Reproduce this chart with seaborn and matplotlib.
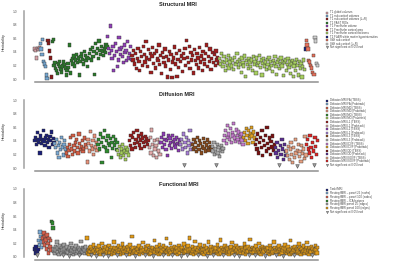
import matplotlib
matplotlib.use("Agg")
import matplotlib.pyplot as plt
import pandas as pd
import seaborn as sns
from matplotlib.lines import Line2D

sns.set_theme(style="white")
plt.rcParams['font.family'] = ['Liberation Sans', 'DejaVu Sans']

NS = "Not significant at 0.05 level"

# ---------------- Structural MRI (heritability x100) ----------------
s_groups = ["T1 global volumes", "T1 sub-cortical volumes", "T1 sub-cortical volumes (L+R)",
            "T1 FAST ROIs", "T1 FreeSurfer volume", "T1 FreeSurfer cortical area",
            "T1 FreeSurfer cortical thickness", "T2 FLAIR white matter hyperintensities",
            "SWI sub-cortical", "SWI sub-cortical (L+R)"]
s_colors = ["#d8a2a8", "#74a7d2", "#8b1a1a", "#2a7a2a", "#9140b8", "#a11d1d",
            "#a8d060", "#1a237e", "#e8705a", "#cfcfcf"]
s_global = [44, 42, 31, 45, 43, 46]
s_subc = [52, 44, 36, 58, 26, 22, 18, 6, 1]
s_sublr = [57, 52, 41, 31, 3]
s_fast = [55, 58, 20, 24, 15, 12, 8, 22, 26, 18, 14, 10, 19, 25, 21, 16, 6, 12, 23, 17,
          50, 9, 27, 30, 22, 34, 19, 28, 36, 24, 31, 6, 26, 33, 38, 29, 22, 40, 35, 27, 32, 18, 30,
          37, 43, 28, 46, 33, 40, 7, 52, 38, 45, 30, 56, 42, 36, 48, 41, 35, 44, 39, 50, 47]
s_fsvol = [63, 45, 38, 78, 42, 30, 48, 12, 35, 52, 40, 18, 28, 61, 44, 36, 46, 33, 24, 50,
           39, 42, 27, 55, 31, 37, 48, 29]
s_area = [35, 28, 42, 22, 38, 15, 30, 45, 26, 12, 40, 33, 20, 48, 36, 25, 55, 31, 18, 43,
          29, 38, 10, 34, 46, 23, 37, 16, 41, 30, 27, 50, 21, 35, 8, 39, 32, 24, 44, 19,
          33, 3, 28, 40, 14, 36, 2, 25, 31, 47, 22, 38, 4, 29, 17, 42, 26, 34, 11, 37,
          30, 45, 20, 57, 32, 24, 48, 15, 39, 28, 35, 9, 43, 27, 21, 38, 31, 16, 46, 25,
          34, 12, 40, 29, 22, 37, 50, 18, 33, 26, 44, 14, 30, 39, 24, 36, 20, 41, 28, 32, 23]
s_thick = [30, 22, 38, 26, 18, 33, 24, 12, 28, 20, 35, 16, 25, 30, 19, 27, 14, 32, 23, 21,
           38, 26, 17, 29, 22, 10, 31, 24, 19, 34, 4, 27, 21, 15, 30, 25, 18, 28, 13, 33,
           22, 26, 9, 31, 20, 24, 35, 17, 28, 6, 23, 30, 19, 25, 14, 29, 21, 32, 16, 26,
           20, 11, 27, 23, 33, 18, 7, 25, 29, 15, 22, 31, 19, 26, 5, 24, 28, 13, 21, 30,
           17, 25, 8, 22, 27, 4, 19, 24, 12, 29, 20, 6, 26, 16, 23, 3, 18, 28, 14]
s_wmh = [44]
s_swi = [57, 50, 44, 27, 25, 20, 16, 10, 35, 7]
s_swilr = [61, 56, 23, 20]
s_values = [s_global, s_subc, s_sublr, s_fast, s_fsvol, s_area, s_thick, s_wmh, s_swi, s_swilr]

# ---------------- Diffusion MRI ----------------
d_groups = ["Diffusion MRI FA (TBSS)", "Diffusion MRI FA (Probtrack)",
            "Diffusion MRI MD (TBSS)", "Diffusion MRI MD (Probtrack)",
            "Diffusion MRI MO (TBSS)", "Diffusion MRI MO (Probtrack)",
            "Diffusion MRI L1 (TBSS)", "Diffusion MRI L1 (Probtrack)",
            "Diffusion MRI L2 (TBSS)", "Diffusion MRI L2 (Probtrack)",
            "Diffusion MRI L3 (TBSS)", "Diffusion MRI L3 (Probtrack)",
            "Diffusion MRI ICVF (TBSS)", "Diffusion MRI ICVF (Probtrack)",
            "Diffusion MRI OD (TBSS)", "Diffusion MRI OD (Probtrack)",
            "Diffusion MRI ISOVF (TBSS)", "Diffusion MRI ISOVF (Probtrack)"]
d_colors = ["#1a1f7a", "#7aa9d4", "#d65f45", "#e8927a", "#2e8b2e", "#a5d05a",
            "#9b1c1c", "#e0a8a8", "#8e3bb5", "#a77fd6", "#8b4a1a", "#a8a8a8",
            "#c77ccf", "#e0a020", "#7a1010", "#5a2d91", "#e8a080", "#e02424"]
d_fa_t = [40, 45, 35, 52, 38, 42, 22, 47, 36, 41, 55, 39, 33, 44, 48, 37, 42, 30, 46, 40, 53, 35, 43, 38]
d_fa_p = [36, 30, 42, 22, 33, 15, 38, 27, 45, 31, 19, 35, 40, 28]
d_md_t = [22, 30, 17, 26, 35, 45, 28, 20, 48, 33, 25, 38, 42, 30, 22, 50, 36, 27, 32, 40, 24, 29, 44, 34]
d_md_p = [30, 9, 42, 36, 25, 54, 33, 28, 40, 20, 47, 31, 38, 26]
d_mo_t = [35, 42, 28, 50, 38, 8, 45, 32, 55, 30, 40, 25, 47, 36, 33, 43, 15, 38, 29, 46, 34, 41, 27, 37]
d_mo_p = [26, 20, 32, 15, 28, 22, 35, 18, 25, 12, 30, 23, 27, 19]
d_l1_t = [40, 33, 48, 28, 45, 52, 36, 30, 42, 55, 38, 47, 34, 41, 29, 50, 44, 37, 32, 46, 39, 43, 35, 40]
d_l1_p = [30, 45, 22, 56, 35, 18, 40, 28, 33, 15, 42, 25, 37, 20]
d_l2_t = [38, 45, 30, 50, 35, 42, 27, 40, 18, 47, 33, 44, 37, 29, 48, 39, 34, 42, 31, 45, 36, 26, 41, 35]
d_l2_p = [35, 42, 28, 50, 4, 38, 30, 45, 22, 40, 33, 55, 27, 36]
d_l3_t = [35, 28, 42, 30, 38, 24, 45, 33, 27, 40, 36, 22, 31, 43, 29, 37, 25, 34, 41, 30, 26, 38, 32, 28]
d_l3_p = [32, 25, 38, 20, 28, 4, 35, 22, 30, 17, 26, 33, 24, 29]
d_icvf_t = [40, 48, 55, 36, 62, 45, 50, 42, 58, 38, 52, 47, 65, 44, 39, 56, 48, 42, 53, 37, 46, 50, 41, 35]
d_icvf_p = [45, 52, 40, 58, 48, 36, 55, 43, 50, 60, 47, 38, 53, 44]
d_od_t = [35, 42, 28, 50, 22, 38, 45, 30, 55, 18, 40, 33, 48, 25, 60, 36, 29, 44, 20, 39, 31, 47, 26, 34]
d_od_p = [30, 22, 38, 15, 26, 4, 33, 20, 42, 28, 12, 35, 24, 18]
d_iso_t = [25, 18, 32, 12, 28, 38, 20, 8, 30, 15, 42, 22, 3, 26, 35, 17, 24, 10, 33, 21, 28, 14, 46, 19]
d_iso_p = [35, 42, 28, 22, 48, 30, 15, 38, 25, 5, 45, 32, 20, 40]
d_values = [d_fa_t, d_fa_p, d_md_t, d_md_p, d_mo_t, d_mo_p, d_l1_t, d_l1_p, d_l2_t, d_l2_p,
            d_l3_t, d_l3_p, d_icvf_t, d_icvf_p, d_od_t, d_od_p, d_iso_t, d_iso_p]

# ---------------- Functional MRI ----------------
f_groups = ["Task fMRI", "Resting fMRI \u2013 parcel 25 (nodes)", "Resting fMRI \u2013 parcel 100 (nodes)",
            "Resting fMRI \u2013 ICA features", "Resting fMRI parcel 25 (edges)",
            "Resting fMRI parcel 100 (edges)"]
f_colors = ["#1a1f7a", "#7aa9d4", "#d6604d", "#2e8b2e", "#a0a0a0", "#e39b17"]
f_task = [12, 6, 15, 3, 9, 11]
f_p25n = [24, 18, 37, 30, 14, 22]
f_p100n = [28, 22, 35, 18, 30, 25, 12, 32, 20, 6, 27, 15, 24, 10]
f_ica = [52, 50, 43]
f_p25e = [8, 12, 5, 15, 10, 22, 7, 13, 4, 11, 16, 9, 6, 14, 3, 10, 18, 8, 12, 5,
          9, 15, 7, 11, 2, 13, 8, 20, 6, 10, 14, 4, 9, 12, 7, 16, 5, 11, 8, 13,
          3, 10, 6, 23, 9, 14, 7, 12, 5, 10, 15, 8]
f_p100e = [28, 6, 10, 4, 13, 8, 15, 3, 11, 7, 18, 9, 5, 12, 2, 14, 8, 10, 6, 16,
           4, 11, 7, 20, 9, 3, 13, 6, 10, 15, 5, 8, 12, 2, 17, 9, 6, 11, 4, 14,
           7, 10, 22, 5, 13, 8, 3, 12, 9, 16, 6, 11, 4, 14, 7, 19, 10, 5, 8, 13,
           3, 9, 12, 6, 15, 10, 4, 18, 8, 11, 30, 5, 13, 7, 9, 2, 14, 10, 6, 12,
           8, 16, 4, 11, 7, 13, 9, 21, 5, 10, 3, 15, 8, 12, 6, 17, 9, 4, 11, 14,
           6, 10, 13, 2, 9, 24, 7, 12, 5, 15, 8, 11, 4, 18, 10, 6, 13, 9, 3, 16,
           11, 5, 8, 14, 27, 7, 10, 4, 12, 9, 20, 6, 13, 3, 11, 8, 15, 5, 10, 7,
           13, 4, 9, 17, 6, 12, 2, 10, 14, 8, 5, 19, 11, 7, 9, 13, 3, 16, 6, 10,
           28, 8, 12, 5, 15, 9, 4, 11, 23, 7, 13, 6, 10, 3, 14, 8, 18, 5, 12, 9,
           6, 11, 4, 16, 10, 7, 13, 2, 9, 22, 5, 12, 8, 15, 6, 10, 3, 14, 11, 7,
           9, 13, 5, 18, 8, 12, 4, 10, 25, 6, 14, 9, 3, 11, 7, 16, 10, 5, 13, 8,
           12, 4, 10, 7, 15, 9, 21, 6, 11, 3, 13, 8, 17, 5, 10, 14, 7, 2, 12, 9,
           5, 14, 8, 11, 6, 19, 10, 4, 13, 7, 9, 15, 3, 12, 26, 8, 11, 6, 14, 10,
           7, 12, 3, 16, 9, 5, 11, 8, 20, 6, 13, 4, 10, 15, 7, 12, 9, 2, 14, 11,
           10, 6, 13, 8, 4, 17, 9, 12, 5, 11, 7, 22, 8, 14, 3, 10, 6, 13, 9, 16,
           4, 11, 8, 14, 6, 10, 2, 13, 18, 7, 12, 5, 9, 15, 8, 11, 4, 24, 10, 6,
           13, 7, 10, 3, 15, 9, 12, 5, 11, 8, 19, 6, 14, 4, 10, 12, 7, 16, 9, 5,
           11, 8, 14, 21, 6, 10, 4, 13, 9, 7, 15, 3, 12, 8, 11, 5, 17, 10, 6, 14]
f_values = [f_task, f_p25n, f_p100n, f_ica, f_p25e, f_p100e]

yticks = [0.0, 0.2, 0.4, 0.6, 0.8, 1.0]
ytick_labels = ["0.0", "0.2", "0.4", "0.6", "0.8", "1.0"]

W, H = 400, 267
fig = plt.figure(figsize=(W / 100, H / 100), dpi=100)

panels = [
    ("Structural MRI", s_groups, s_colors, s_values, -1, 11, 79, 4.7, 12, -0.2, 5.5),
    ("Diffusion MRI", d_groups, d_colors, d_values, 5, 100, 168, 94.3, 100, -0.15, 5.5),
    ("Functional MRI", f_groups, f_colors, f_values, 3, 189, 257, 184.3, 189, -0.1, 6.5),
]

for title, groups, colors, values, ns_max, ytop, ybot, ytitle, yleg, lspace, msize in panels:
    rows = []
    i = 0
    for g, vals in zip(groups, values):
        for v in vals:
            rows.append((i, v / 100.0, g if v > ns_max else NS))
            i += 1
    df = pd.DataFrame(rows, columns=["idx", "h", "group"])
    n = len(df)
    ax = fig.add_axes([24 / W, 1 - ybot / H, 294 / W, (ybot - ytop) / H])
    pal = dict(zip(groups, colors))
    sig = df[df["group"] != NS]
    ns = df[df["group"] == NS]
    sns.scatterplot(data=sig, x="idx", y="h", hue="group", palette=pal, marker="s",
                    s=msize, linewidth=0.3, edgecolor="#333333", legend=False, ax=ax,
                    clip_on=False, zorder=3)
    if len(ns):
        sns.scatterplot(data=ns, x="idx", y="h", color="#9a9a9a", marker="v",
                        s=msize + 1.5, linewidth=0.3, edgecolor="#333333", legend=False, ax=ax,
                        clip_on=False, zorder=3)
    ax.set_xlim(-(11 / 283) * (n - 1), (n - 1) * (1 + 0.5 / 283))
    ax.set_ylim(0, 1)
    ax.set_xticks([])
    ax.set_yticks(yticks)
    ax.set_yticklabels(ytick_labels, fontsize=2.3, color="#555555")
    ax.tick_params(axis="y", length=0, pad=5)
    ax.set_xlabel("")
    ax.set_ylabel("Heritability", fontsize=2.8, color="#333333")
    ax.yaxis.set_label_coords(-0.062, 0.55)
    for side in ["top", "right"]:
        ax.spines[side].set_visible(False)
    ax.spines["left"].set_bounds(0, 1)
    ax.spines["left"].set_color("#a0a0a0")
    ax.spines["left"].set_linewidth(1.1)
    ax.spines["bottom"].set_bounds(0, n - 1)
    ax.spines["bottom"].set_position(("outward", 2.2))
    ax.spines["bottom"].set_color("#909090")
    ax.spines["bottom"].set_linewidth(1.1)
    ax.patch.set_alpha(0)

    fig.text(159 / W, 1 - ytitle / H, title, fontsize=4, fontweight="bold",
             va="center", ha="left", color="#222222")

    handles = [Line2D([], [], ls="", marker="s", markersize=1.6, markerfacecolor=c,
                      markeredgecolor="#333333", markeredgewidth=0.2) for c in colors]
    handles.append(Line2D([], [], ls="", marker="v", markersize=1.8, markerfacecolor="#9a9a9a",
                          markeredgecolor="#333333", markeredgewidth=0.2))
    labels = list(groups) + [NS]
    fig.legend(handles, labels, loc="upper left", bbox_to_anchor=(326 / W, 1 - (yleg - 1.5) / H),
               fontsize=2.0, frameon=False, handlelength=0.9, handletextpad=0.6,
               labelspacing=lspace, borderpad=0, borderaxespad=0, labelcolor="#444444")

fig.savefig("out.png", dpi=100)
